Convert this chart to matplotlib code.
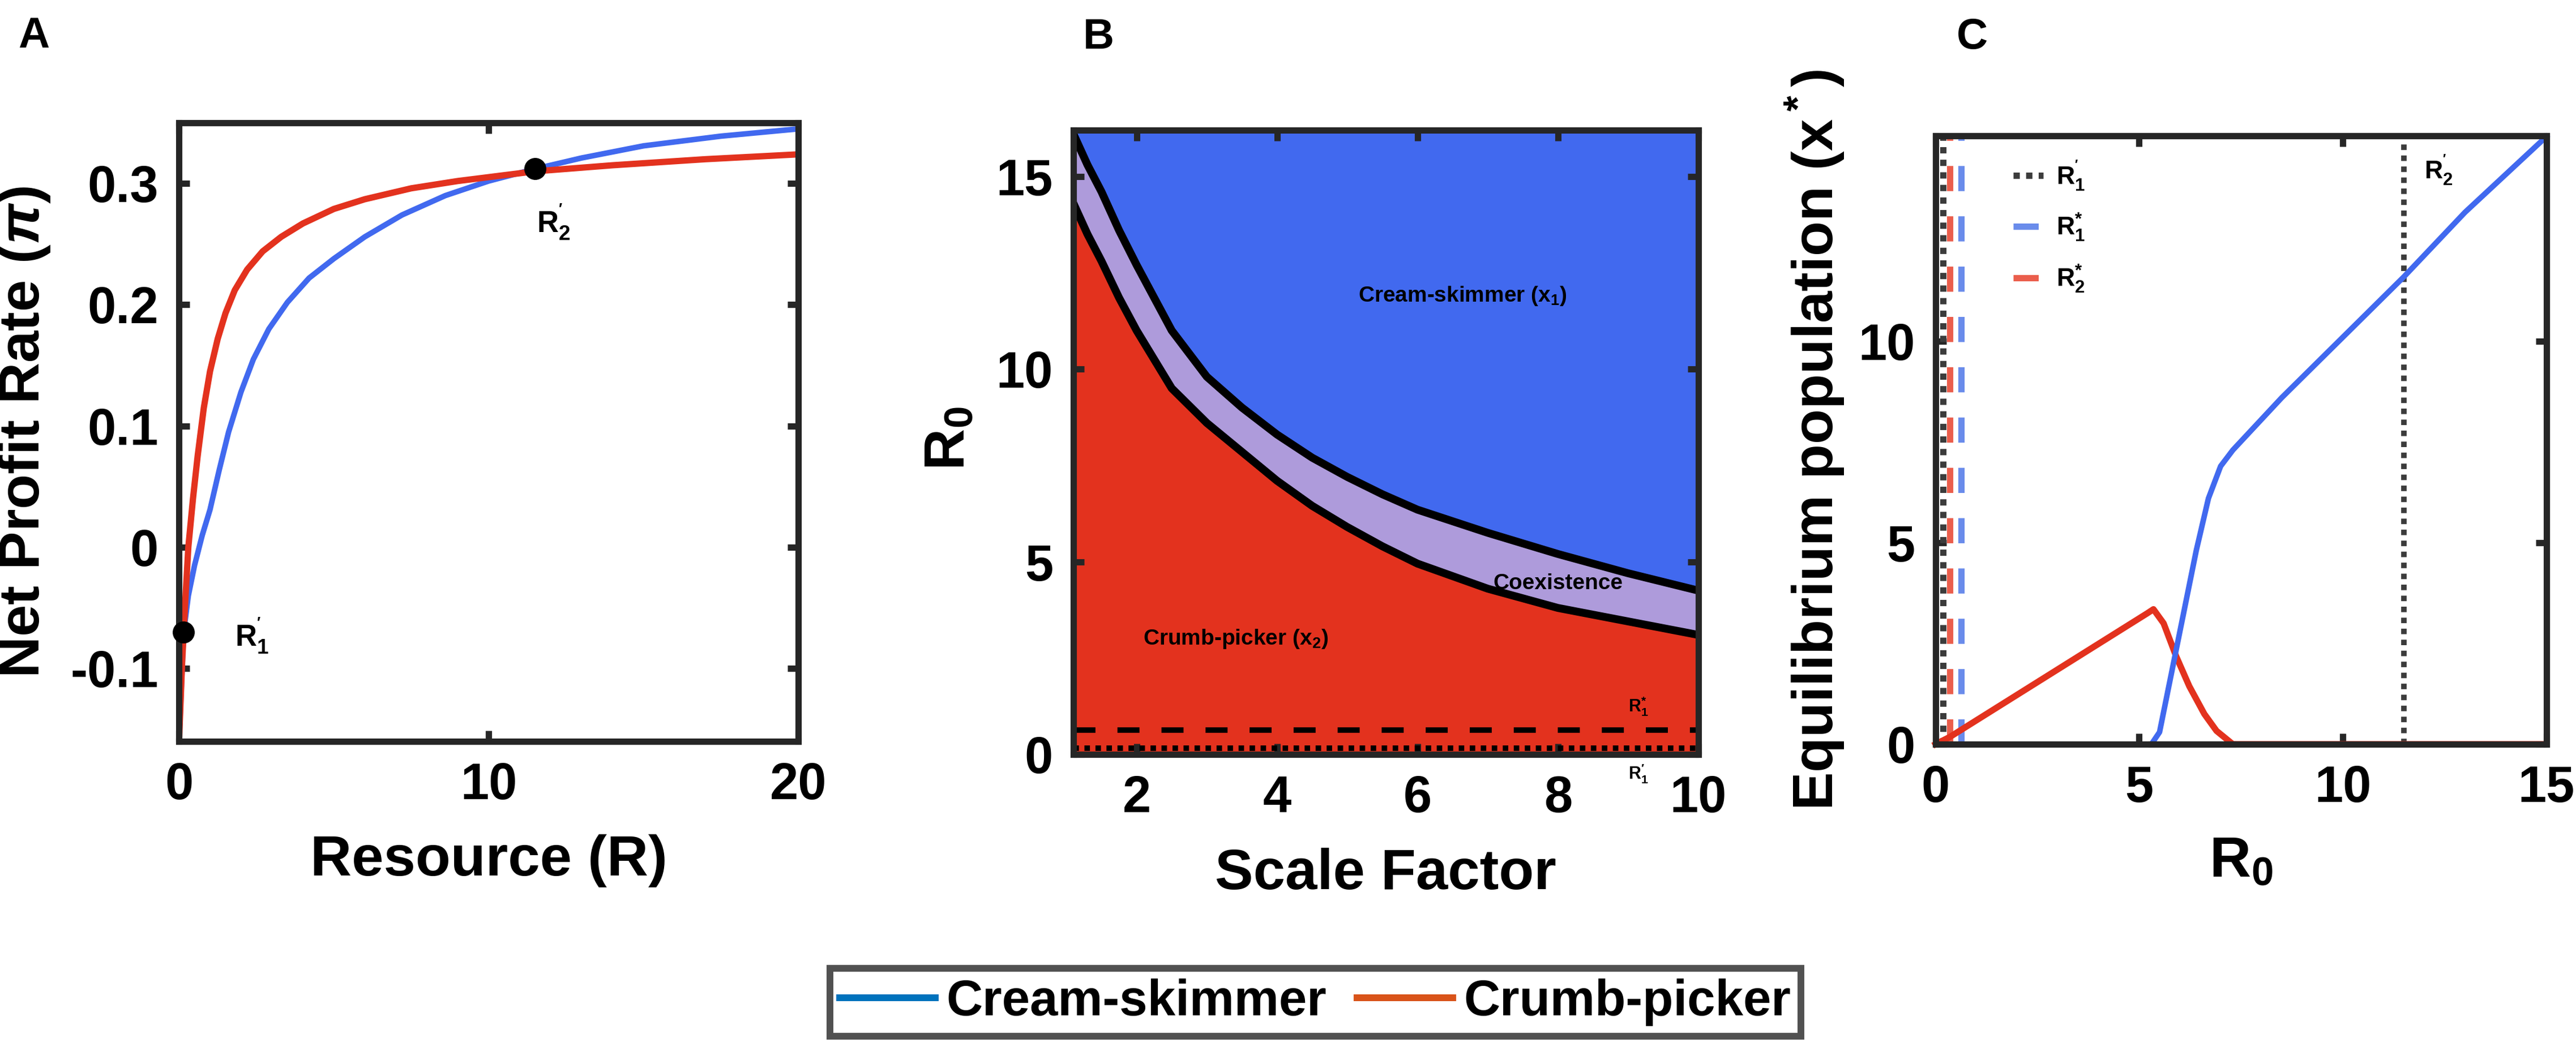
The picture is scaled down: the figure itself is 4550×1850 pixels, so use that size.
import numpy as np
import matplotlib
matplotlib.use("Agg")
import matplotlib.pyplot as plt
from matplotlib.lines import Line2D

plt.rcParams["font.family"] = ["Liberation Sans", "DejaVu Sans"]
plt.rcParams["font.weight"] = "bold"
plt.rcParams["mathtext.fontset"] = "custom"
plt.rcParams["mathtext.rm"] = "Liberation Sans:bold"
plt.rcParams["mathtext.it"] = "Liberation Sans:italic:bold"
plt.rcParams["mathtext.bf"] = "Liberation Sans:bold"
plt.rcParams["mathtext.default"] = "rm"

# ---- panel A : net profit rate vs resource ----
res_red = [0, 0.1, 0.2, 0.3, 0.45, 0.6, 0.8, 1.0, 1.25, 1.5, 1.8, 2.2, 2.7, 3.3, 4.0,
           5.0, 6.0, 7.5, 9.0, 11.5, 14, 17, 20]
pi_red = [-0.16, -0.095, -0.045, 0.0, 0.04, 0.075, 0.115, 0.145, 0.172, 0.193, 0.212,
          0.229, 0.244, 0.256, 0.267, 0.279, 0.287, 0.296, 0.302, 0.31, 0.315, 0.32, 0.324]
res_blue = [0, 0.15, 0.3, 0.5, 0.75, 1.0, 1.3, 1.6, 2.0, 2.4, 2.9, 3.5, 4.2, 5.0, 6.0,
            7.2, 8.6, 10, 11.5, 13, 15, 17.5, 20]
pi_blue = [-0.16, -0.07, -0.04, -0.015, 0.01, 0.031, 0.064, 0.095, 0.128, 0.155, 0.18,
           0.202, 0.222, 0.238, 0.256, 0.274, 0.29, 0.302, 0.312, 0.321, 0.331, 0.339, 0.345]
mark_R = [0.15, 11.5]
mark_pi = [-0.07, 0.312]

# ---- panel B : regions in (scale factor, R0) ----
scale = [1.1, 1.3, 1.5, 1.75, 2.0, 2.5, 3.0, 3.5, 4.0, 4.5, 5.0, 5.5, 6.0, 7.0, 8.0, 9.0, 10.0]
upper_b = [16.1, 15.3, 14.6, 13.6, 12.7, 11.0, 9.8, 9.0, 8.3, 7.7, 7.2, 6.75, 6.35, 5.75,
           5.2, 4.7, 4.25]
lower_b = [14.3, 13.5, 12.8, 11.85, 11.0, 9.5, 8.6, 7.85, 7.1, 6.45, 5.9, 5.4, 4.95, 4.3,
           3.8, 3.45, 3.1]
R1_star = 0.63
R1_prime = 0.16

# ---- panel C : equilibrium populations vs R0 ----
r0_blue = [0.6, 5.3, 5.5, 5.7, 5.9, 6.1, 6.4, 6.7, 7.0, 7.3, 8.5, 10, 11.5, 13, 15]
x_blue = [0, 0, 0.3, 1.3, 2.3, 3.3, 4.8, 6.1, 6.9, 7.3, 8.6, 10.1, 11.6, 13.2, 15.08]
r0_red = [0, 0.35, 5.2, 5.35, 5.6, 5.9, 6.23, 6.6, 6.9, 7.3, 15]
x_red = [0, 0.18, 3.25, 3.35, 3.0, 2.2, 1.44, 0.75, 0.33, 0, 0]
vline_R1p = 0.18
vline_R2s = 0.35
vline_R1s = 0.63
vline_R2p = 11.5

blue = "#4169EF"
red = "#E3321E"
purple = "#AE9BDB"
spine_col = "#262626"


def style(ax):
    for s in ax.spines.values():
        s.set_linewidth(8)
        s.set_color(spine_col)
    ax.tick_params(direction="in", top=True, right=True, length=14, width=8,
                   labelsize=65, pad=26, color=spine_col)
    for t in ax.get_xticklabels() + ax.get_yticklabels():
        t.set_fontweight("bold")


fig = plt.figure(figsize=(45.5, 18.5), dpi=100)

# ---------------- A ----------------
axA = fig.add_axes([0.0695, 0.2919, 0.2404, 0.5908])
axA.plot(res_blue, pi_blue, color=blue, lw=7, solid_capstyle="butt")
axA.plot(res_red, pi_red, color=red, lw=8, solid_capstyle="butt")
axA.plot(mark_R, mark_pi, "o", color="black", ms=27, clip_on=False, zorder=5)
axA.text(1.8, -0.073, r"$\mathrm{R}_1^{'}$", fontsize=38, va="center", ha="left")
axA.text(12.1, 0.268, r"$\mathrm{R}_2^{'}$", fontsize=38, va="center", ha="center")
axA.set_xlim(0, 20)
axA.set_ylim(-0.16, 0.35)
axA.set_xticks([0, 10, 20])
axA.set_yticks([-0.1, 0, 0.1, 0.2, 0.3])
axA.set_yticklabels(["-0.1", "0", "0.1", "0.2", "0.3"])
style(axA)
axA.set_xlabel("Resource (R)", fontsize=73, fontweight="bold")
axA.set_ylabel(r"Net Profit Rate ($\mathit{\pi}$)", fontsize=73, fontweight="bold")
axA.xaxis.set_label_coords(0.5, -0.15)
axA.yaxis.set_label_coords(-0.205, 0.5)

# ---------------- B ----------------
axB = fig.add_axes([0.4167, 0.2795, 0.2426, 0.5962])
axB.set_facecolor(blue)
axB.fill_between(scale, -1, upper_b, color=purple, lw=0)
axB.fill_between(scale, -1, lower_b, color=red, lw=0)
axB.plot(scale, upper_b, color="black", lw=10)
axB.plot(scale, lower_b, color="black", lw=10)
axB.axhline(R1_star, color="black", lw=7, dashes=(4, 4))
axB.axhline(R1_prime, color="black", lw=7, dashes=(1, 1))
axB.text(6.64, 11.9, r"Cream-skimmer ($\mathrm{x_1}$)", fontsize=28, ha="center", va="center")
axB.text(8.0, 4.44, "Coexistence", fontsize=28, ha="center", va="center")
axB.text(3.41, 3.0, r"Crumb-picker ($\mathrm{x_2}$)", fontsize=28, ha="center", va="center")
axB.text(9.0, 1.25, r"$\mathrm{R}_1^{*}$", fontsize=22, ha="left", va="center")
axB.text(9.0, -0.5, r"$\mathrm{R}_1^{\prime}$", fontsize=22, ha="left", va="center", clip_on=False)
axB.set_xlim(1.1, 10)
axB.set_ylim(0, 16.2)
axB.set_xticks([2, 4, 6, 8, 10])
axB.set_yticks([0, 5, 10, 15])
style(axB)
axB.set_xlabel("Scale Factor", fontsize=73, fontweight="bold")
axB.set_ylabel(r"$\mathrm{R_0}$", fontsize=73, fontweight="bold")
axB.xaxis.set_label_coords(0.5, -0.15)
axB.yaxis.set_label_coords(-0.155, 0.506)

# ---------------- C ----------------
axC = fig.add_axes([0.7514, 0.2892, 0.2371, 0.5811])
hR1p = axC.axvline(vline_R1p, color="#3C3C3C", lw=8, dashes=(1, 1))
hR2s = axC.axvline(vline_R2s, color="#EB5E4C", lw=8, dashes=(4, 4))
hR1s = axC.axvline(vline_R1s, color="#6A8CEB", lw=8, dashes=(4, 4))
axC.axvline(vline_R2p, color="#3C3C3C", lw=7, dashes=(1, 1))
axC.plot(r0_red, x_red, color=red, lw=8, clip_on=False)
axC.plot(r0_blue, x_blue, color=blue, lw=7, clip_on=False)
axC.plot([5.3, 7.3], [0, 0], color="black", lw=8, clip_on=False)
axC.text(12.0, 14.25, r"$\mathrm{R}_2^{'}$", fontsize=32, ha="left", va="center")
axC.legend([hR1p, hR1s, hR2s],
           [r"$\mathrm{R}_1^{'}$", r"$\mathrm{R}_1^{*}$", r"$\mathrm{R}_2^{*}$"],
           loc="upper left", bbox_to_anchor=(0.09, 1.0), frameon=False,
           fontsize=32, handlelength=1.2, handletextpad=0.5, labelspacing=0.8)
axC.set_xlim(0, 15)
axC.set_ylim(0, 15.1)
axC.set_xticks([0, 5, 10, 15])
axC.set_yticks([0, 5, 10])
style(axC)
axC.set_xlabel(r"$\mathrm{R_0}$", fontsize=73, fontweight="bold")
axC.set_ylabel(r"Equilibrium population ($\mathrm{x^*}$)", fontsize=73, fontweight="bold")
axC.xaxis.set_label_coords(0.5, -0.15)
axC.yaxis.set_label_coords(-0.146, 0.5)

# panel letters
fig.text(0.0132, 0.965, "A", fontsize=55, fontweight="bold", ha="center", va="center")
fig.text(0.4264, 0.964, "B", fontsize=55, fontweight="bold", ha="center", va="center")
fig.text(0.7657, 0.964, "C", fontsize=55, fontweight="bold", ha="center", va="center")

# shared legend at the bottom
leg_handles = [Line2D([], [], color="#0072BD", lw=8.6), Line2D([], [], color="#D95319", lw=8.6)]
leg = fig.legend(leg_handles, ["Cream-skimmer", "Crumb-picker"], loc="center",
                 bbox_to_anchor=(0.5106, 0.0427), ncol=2, fontsize=64, frameon=True,
                 fancybox=False, handlelength=1.9, handletextpad=0.22, columnspacing=0.6,
                 borderpad=0.2, borderaxespad=0)
leg.get_frame().set_edgecolor(spine_col)
leg.get_frame().set_linewidth(8.6)
for t in leg.get_texts():
    t.set_fontweight("bold")

fig.savefig("out.png", dpi=100)
